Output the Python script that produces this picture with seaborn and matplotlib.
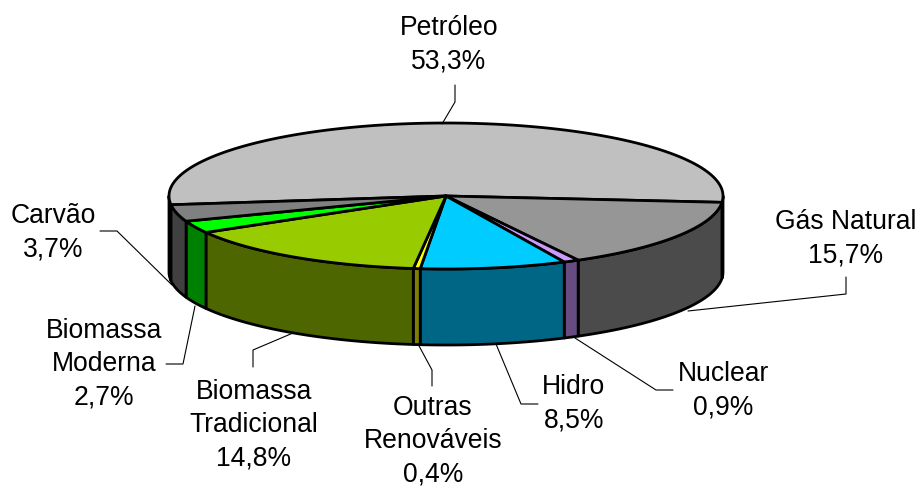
import numpy as np
import seaborn as sns
import matplotlib.pyplot as plt

names = ['Petróleo', 'Gás Natural', 'Nuclear', 'Hidro', 'Outras\nRenováveis',
         'Biomassa\nTradicional', 'Biomassa\nModerna', 'Carvão']
shares = [53.3, 15.7, 0.9, 8.5, 0.4, 14.8, 2.7, 3.7]
top_colors = ['#C0C0C0', '#969696', '#CC99FF', '#00CCFF', '#FFFF00',
              '#99CC00', '#00FF00', '#808080']
side_colors = ['#606060', '#4B4B4B', '#664C80', '#006685', '#808000',
               '#4D6600', '#008000', '#404040']
label_pos = [(449, 45), (846, 239), (723, 391), (574, 404), (433, 441),
             (254, 425), (104, 364), (53, 233)]
leaders = [
    [(455, 85), (455, 102), (442, 124)],
    [(846, 277), (846, 294), (688, 311)],
    [(673, 390), (656, 390), (575, 338)],
    [(538, 404), (521, 404), (496, 344)],
    [(432, 386), (432, 370), (418, 344)],
    [(253, 367), (253, 350), (293, 333)],
    [(166, 364), (183, 364), (195, 306)],
    [(100, 231), (117, 231), (172, 285)],
]

cx, cy = 446, 196
rx, ry = 277, 73
depth = 76
start = 186.9


def rim(t):
    return cx + rx * np.cos(np.radians(t)), cy - ry * np.sin(np.radians(t))


sns.set_theme(style='white')
plt.rcParams['font.family'] = ['Liberation Sans', 'DejaVu Sans']

fig, ax = plt.subplots(figsize=(9.19, 4.86), dpi=100)
ax.set_position([0, 0, 1, 1])
ax.set_xlim(0, 919)
ax.set_ylim(486, 0)
ax.axis('off')

angles = start - np.cumsum([0] + shares) * 3.6
edge = dict(edgecolor='black', linewidth=2.0, joinstyle='round')

# side walls first, only the part facing the viewer
for i in range(len(shares)):
    hi, lo = angles[i], angles[i + 1]
    # the wall is visible for angles 180..360, going clockwise
    for shift in (0, -360, 360):
        a = min(hi + shift, 360)
        b = max(lo + shift, 180)
        if a > b and a <= 360 and b >= 180:
            t = np.linspace(a, b, 80)
            x, y = rim(t)
            ax.fill(np.r_[x, x[::-1]], np.r_[y, y[::-1] + depth],
                    facecolor=side_colors[i], **edge)

# top faces
for i in range(len(shares)):
    t = np.linspace(angles[i], angles[i + 1], 200)
    x, y = rim(t)
    ax.fill(np.r_[cx, x], np.r_[cy, y], facecolor=top_colors[i], **edge)

for pts in leaders:
    xs, ys = zip(*pts)
    ax.plot(xs, ys, color='black', lw=0.8, solid_joinstyle='miter')

for name, share, (lx, ly) in zip(names, shares, label_pos):
    txt = name + '\n' + f'{share:.1f}%'.replace('.', ',')
    ax.text(lx, ly, txt, ha='center', va='center', fontsize=19.1,
            linespacing=1.37, color='black')

fig.savefig('out.png', dpi=100)
